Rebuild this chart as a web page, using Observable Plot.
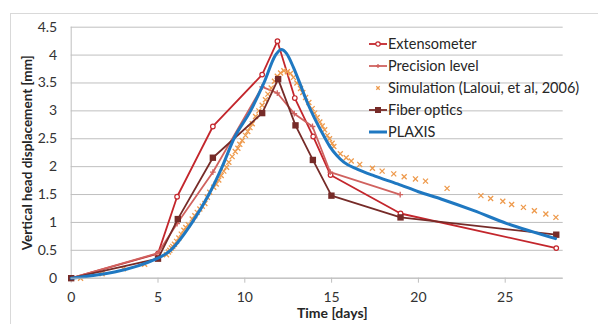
<!DOCTYPE html>
<html><head><meta charset="utf-8">
<script src="https://cdn.jsdelivr.net/npm/d3@7"></script>
<script src="https://cdn.jsdelivr.net/npm/@observablehq/plot@0.6"></script>
<style>
body{margin:0;background:#fff;overflow:hidden;}
#wrap{position:relative;width:598px;height:324px;}
#border{position:absolute;left:10px;top:13px;width:620px;height:340px;border:1px solid #D9D9D9;pointer-events:none;}
</style></head>
<body><div id="wrap"><div id="border"></div></div>
<script>
// ---- data ----
const seriesNames = ["Extensometer","Precision level","Simulation (Laloui, et al, 2006)","Fiber optics","PLAXIS"];
const xTicks = [0,5,10,15,20,25];
const yTicks = [0,0.5,1,1.5,2,2.5,3,3.5,4,4.5];

const extX = [0,5,6.1,8.16,11.0,11.88,12.88,13.94,14.94,18.97,27.94];
const extY = [0,0.44,1.46,2.72,3.65,4.25,3.23,2.54,1.85,1.16,0.54];

const precX = [0,5,6.1,8.16,11.0,11.87,12.85,13.9,14.92,18.95];
const precY = [0,0.45,0.98,1.90,3.43,3.32,2.95,2.72,1.90,1.50];

const simX = [0.54,1.78,3.0,4.23,5.49,5.6,5.68,5.77,5.85,5.95,6.07,6.2,6.34,6.49,6.6,6.74,6.97,7.12,7.26,7.41,7.55,7.7,7.84,7.98,8.21,8.35,8.5,8.64,8.79,8.95,9.08,9.27,9.45,9.6,9.71,9.85,10.04,10.17,10.3,10.43,10.62,10.81,11.0,11.19,11.33,11.52,11.71,11.87,12.06,12.25,
  12.45,12.63,12.8,13.0,13.21,13.34,13.5,13.69,13.88,14.02,14.17,14.32,14.46,14.6,14.75,14.88,15.03,15.13,15.5,15.84,16.13,16.62,17.35,17.91,18.58,19.18,19.83,20.41,21.65,23.6,24.16,24.86,25.37,26.05,26.68,27.34,27.92];
const simY = [0,0.08,0.17,0.25,0.42,0.47,0.50,0.54,0.57,0.61,0.66,0.72,0.79,0.86,0.91,0.96,1.06,1.12,1.18,1.24,1.29,1.34,1.45,1.54,1.63,1.69,1.76,1.84,1.92,1.99,2.08,2.18,2.27,2.33,2.40,2.47,2.56,2.63,2.70,2.77,2.90,3.0,3.10,3.20,3.30,3.41,3.53,3.62,3.68,3.72,
  3.70,3.67,3.60,3.50,3.40,3.33,3.24,3.15,3.04,2.96,2.88,2.80,2.73,2.66,2.56,2.50,2.42,2.36,2.23,2.16,2.10,2.04,1.97,1.92,1.87,1.82,1.78,1.74,1.61,1.48,1.43,1.38,1.32,1.27,1.21,1.15,1.09];

const fibX = [0,5,6.14,8.16,11.0,11.92,12.92,13.92,14.99,18.97,27.94];
const fibY = [0,0.35,1.06,2.16,2.96,3.57,2.74,2.12,1.48,1.09,0.78];

const plxX = [0,5,5.72,6.97,7.93,8.7,9.37,10.33,11.1,11.77,12.1,12.4,12.8,13.2,13.6,14.0,14.5,14.9,15.3,15.7,16.5,17.5,18.8,20.0,21.3,23.2,25.1,27.9];
const plxY = [0,0.36,0.5,1.0,1.5,2.0,2.5,3.0,3.5,4.0,4.1,4.03,3.78,3.47,3.15,2.88,2.58,2.36,2.20,2.08,1.95,1.83,1.69,1.55,1.42,1.21,0.98,0.71];

const colors = {ext:"#C3262C", prec:"#D0625F", sim:"#EE9A4C", fib:"#762B28", plx:"#1F78C1"};

const pts = (xs, ys) => xs.map((x,i)=>({x, y: ys[i]}));
const ext = pts(extX, extY), prec = pts(precX, precY), sim = pts(simX, simY), fib = pts(fibX, fibY), plx = pts(plxX, plxY);

const ML = 70.7, MR = 35.3, MT = 26.7, MB = 46.3;
const FONT = "Lato, 'Open Sans', sans-serif";

const chart = Plot.plot({
  width: 598, height: 324,
  marginLeft: ML, marginRight: MR, marginTop: MT, marginBottom: MB,
  style: {fontFamily: FONT, fontSize: "13px", color: "#404040", background: "transparent", overflow: "visible"},
  x: {domain: [0, 28.34]},
  y: {domain: [0, 4.5]},
  marks: [
    Plot.gridY(yTicks, {stroke: "#BFBFBF", strokeOpacity: 1, strokeWidth: 1}),
    Plot.ruleX([0], {stroke: "#BFBFBF", strokeWidth: 1}),
    Plot.axisX(xTicks, {tickSize: 5, tickPadding: 9, stroke: "#BFBFBF", fill: "#333333", label: null, tickFormat: d => String(d), fontSize: 14}),
    Plot.axisY(yTicks, {tickSize: 0, tickPadding: 14, label: null, fill: "#333333", tickFormat: d => String(d), fontSize: 14}),
    Plot.text(["Vertical head displacement [mm]"], {frameAnchor: "left", textAnchor: "middle", rotate: -90, dx: -44, fontWeight: "bold", fontSize: 13.5, fill: "#262626"}),
    Plot.text(["Time [days]"], {frameAnchor: "bottom", textAnchor: "middle", dy: 40, dx: 15, fontWeight: "bold", fontSize: 14, fill: "#262626"}),
    // Extensometer
    Plot.line(ext, {x: "x", y: "y", stroke: colors.ext, strokeWidth: 1.8}),
    Plot.dot(ext, {x: "x", y: "y", r: 2.3, stroke: colors.ext, fill: "white", strokeWidth: 1.2}),
    // Precision level
    Plot.line(prec, {x: "x", y: "y", stroke: colors.prec, strokeWidth: 1.8}),
    Plot.dot(prec, {x: "x", y: "y", r: 2, symbol: "plus", stroke: colors.prec, strokeWidth: 1.3}),
    // Simulation
    Plot.dot(sim, {x: "x", y: "y", r: 2.4, symbol: "times", stroke: colors.sim, strokeWidth: 1.3}),
    // Fiber optics
    Plot.line(fib, {x: "x", y: "y", stroke: colors.fib, strokeWidth: 1.8}),
    Plot.dot(fib, {x: "x", y: "y", r: 3.6, symbol: "square", fill: colors.fib, stroke: "none"}),
    // PLAXIS
    Plot.line(plx, {x: "x", y: "y", stroke: colors.plx, strokeWidth: 3, curve: "monotone-x"}),
    Plot.ruleY([0], {stroke: "#BFBFBF", strokeWidth: 1})
  ]
});
document.getElementById("wrap").prepend(chart);

// ---- legend (drawn inside the SVG, transparent background) ----
const legendKeys = ["ext","prec","sim","fib","plx"];
const svg = d3.select(chart);
const lg = svg.append("g").attr("font-family", FONT).attr("font-size", 14.5).attr("fill", "#262626").attr("text-anchor", "start");
legendKeys.forEach((k, i) => {
  const y = 44 + i * 22;
  const g = lg.append("g").attr("transform", `translate(369,${y})`);
  if (k !== "sim") g.append("line").attr("x1", 0).attr("x2", 18).attr("y1", 0).attr("y2", 0)
      .attr("stroke", colors[k]).attr("stroke-width", k === "plx" ? 3 : 1.8);
  if (k === "ext") g.append("circle").attr("cx", 9).attr("cy", 0).attr("r", 2.2).attr("fill", "white").attr("stroke", colors.ext).attr("stroke-width", 1.2);
  if (k === "prec") g.append("path").attr("d", "M7,0H11M9,-2V2").attr("stroke", colors.prec).attr("stroke-width", 1.3);
  if (k === "sim") g.append("path").attr("d", "M7.3,-1.7L10.7,1.7M7.3,1.7L10.7,-1.7").attr("stroke", colors.sim).attr("stroke-width", 1.3);
  if (k === "fib") g.append("rect").attr("x", 6).attr("y", -3).attr("width", 6).attr("height", 6).attr("fill", colors.fib);
  g.append("text").attr("x", 19).attr("y", 0).attr("dy", "0.35em").attr("text-anchor", "start").text(seriesNames[i]);
});
</script>
</body></html>
